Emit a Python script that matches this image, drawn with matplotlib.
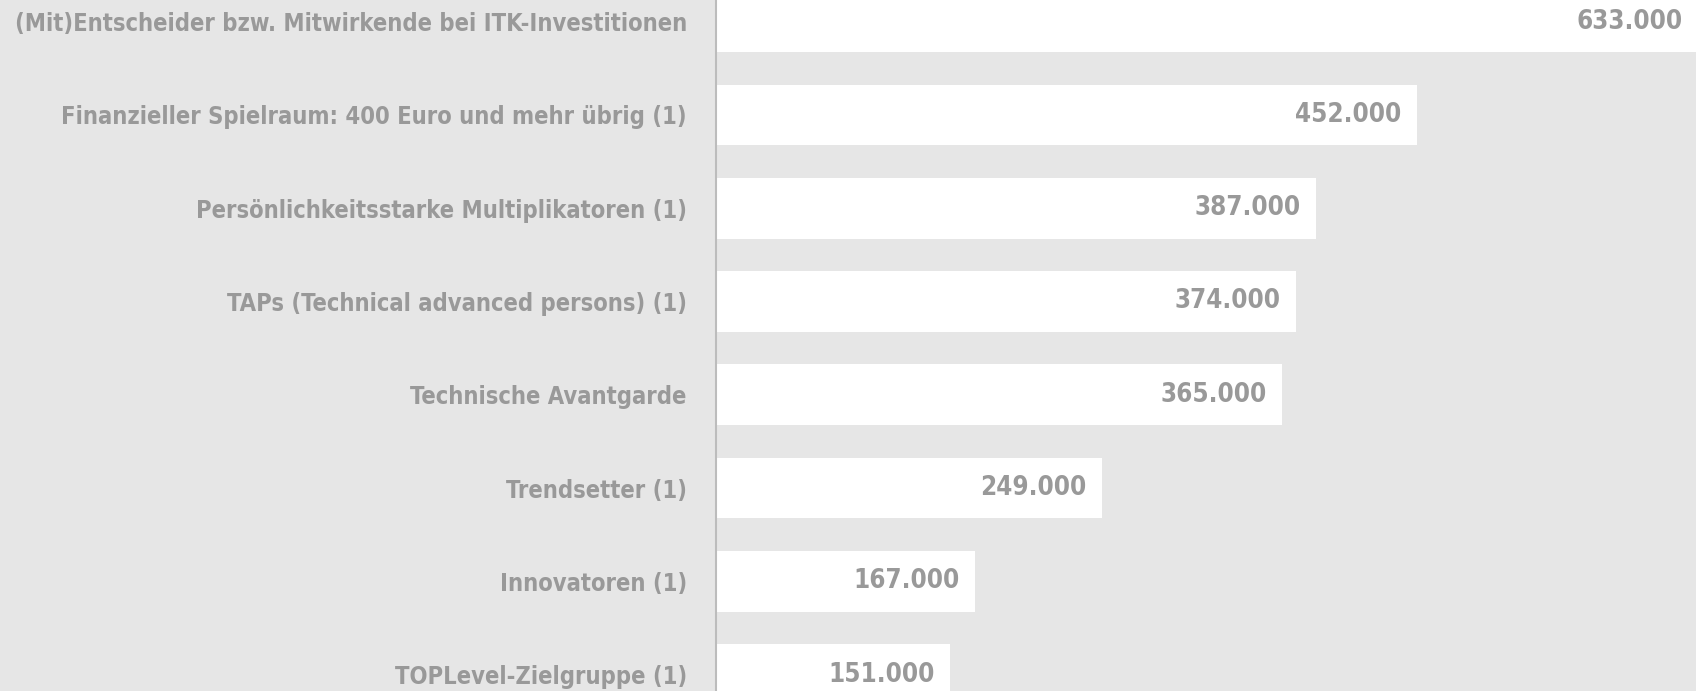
import matplotlib
matplotlib.use("Agg")
import matplotlib.pyplot as plt
from matplotlib import font_manager
from matplotlib.font_manager import FontProperties

categories = [
    "(Mit)Entscheider bzw. Mitwirkende bei ITK-Investitionen",
    "Finanzieller Spielraum: 400 Euro und mehr übrig (1)",
    "Persönlichkeitsstarke Multiplikatoren (1)",
    "TAPs (Technical advanced persons) (1)",
    "Technische Avantgarde",
    "Trendsetter (1)",
    "Innovatoren (1)",
    "TOPLevel-Zielgruppe (1)",
]
values = [633000, 452000, 387000, 374000, 365000, 249000, 167000, 151000]

# pick a condensed face if installed
fam, stretch = "Roboto", "normal"
for f in font_manager.fontManager.ttflist:
    if str(f.stretch) in ("condensed", "semi-condensed", "extra-condensed") and f.weight in (700, "bold"):
        fam, stretch = f.name, f.stretch
        break

W, H = 1696, 691
fig = plt.figure(figsize=(W / 100, H / 100), dpi=100)
bg = "#e6e6e6"
fig.patch.set_facecolor(bg)
ax_left = 716 / W
ax = fig.add_axes([ax_left, 0, 1 - ax_left, 1])
ax.set_facecolor(bg)

renderer = fig.canvas.get_renderer()


def fit_size(text, target_px, base=21.0, cap=25.0):
    fp = FontProperties(family=fam, weight="bold", stretch=stretch, size=base)
    w, h, d = renderer.get_text_width_height_descent(text, fp, ismath=False)
    return min(cap, base * target_px / w)


cat_size = fit_size(categories[0], 672)
val_size = fit_size("452.000", 106)

ypos = list(range(len(categories)))
ax.barh(ypos, values, height=0.65, color="white", zorder=2)
ax.set_xlim(0, 632000)
ax.set_ylim(7.175, -0.2315)

txt = "#999999"
for y, v in zip(ypos, values):
    lab = f"{v:,}".replace(",", ".")
    ax.annotate(lab, (v, y), xytext=(-11, 0), textcoords="offset points",
                ha="right", va="center", fontsize=val_size, fontweight="bold",
                fontstretch=stretch, color=txt, family=fam, zorder=3,
                annotation_clip=False)

ax.set_yticks(ypos)
ax.set_yticklabels(categories, fontsize=cat_size, fontweight="bold",
                   fontstretch=stretch, color=txt, family=fam)
ax.tick_params(axis="y", length=0, pad=21)
ax.set_xticks([])
for s in ["top", "right", "bottom"]:
    ax.spines[s].set_visible(False)
ax.spines["left"].set_color("#bcbcbc")
ax.spines["left"].set_linewidth(1.5)
ax.spines["left"].set_zorder(4)

fig.savefig("out.png", dpi=100, facecolor=bg)
